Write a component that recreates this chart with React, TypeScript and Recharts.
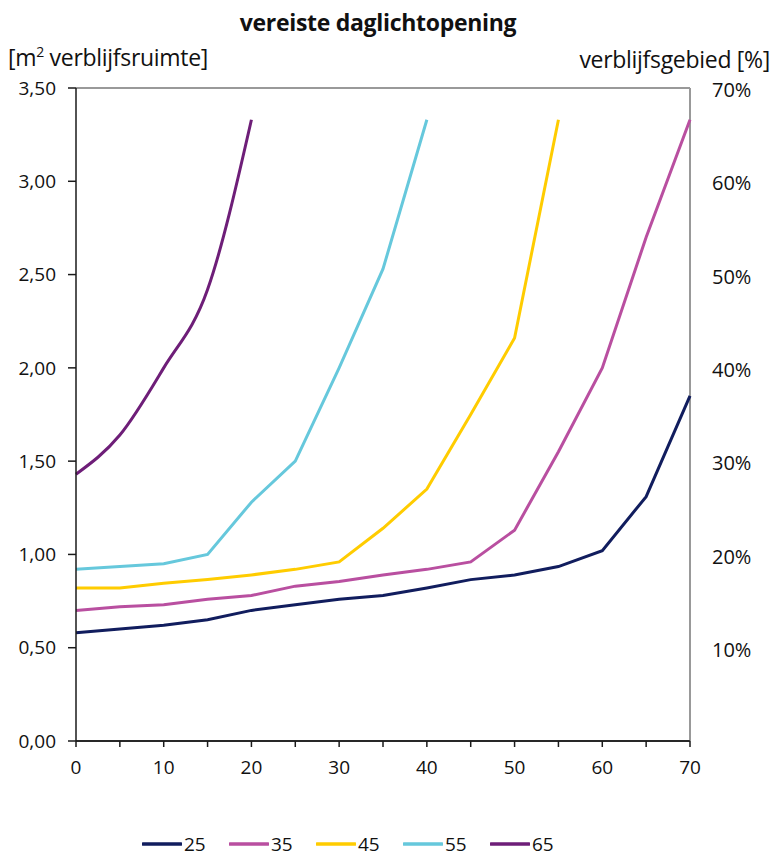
import React from 'react';
import { LineChart, Line, XAxis, YAxis, CartesianGrid, ReferenceLine, Legend } from 'recharts';

// verblijfsgebied [%] op de x-as, benodigde daglichtopening per m2 op de y-as
const xValues = [0, 5, 10, 15, 20, 25, 30, 35, 40, 45, 50, 55, 60, 65, 70];
const s25 = [0.58, 0.6, 0.62, 0.65, 0.7, 0.73, 0.76, 0.78, 0.82, 0.865, 0.89, 0.935, 1.02, 1.31, 1.85];
const s35 = [0.7, 0.72, 0.73, 0.76, 0.78, 0.83, 0.855, 0.89, 0.92, 0.96, 1.13, 1.55, 2.0, 2.7, 3.33];
const s45 = [0.82, 0.82, 0.845, 0.865, 0.89, 0.92, 0.96, 1.14, 1.35, 1.75, 2.16, 3.33];
const s55 = [0.92, 0.935, 0.95, 1.0, 1.28, 1.5, 2.0, 2.53, 3.33];
const s65 = [1.43, 1.64, 2.0, 2.42, 3.33];

const leftTicks = [0, 0.5, 1, 1.5, 2, 2.5, 3, 3.5];
const rightTicks = [10, 20, 30, 40, 50, 60, 70];

const series = [
  { key: 's25', name: '25', values: s25, color: '#111d5e', type: 'linear' },
  { key: 's35', name: '35', values: s35, color: '#b94fa0', type: 'linear' },
  { key: 's45', name: '45', values: s45, color: '#ffcc00', type: 'linear' },
  { key: 's55', name: '55', values: s55, color: '#66c8dc', type: 'linear' },
  { key: 's65', name: '65', values: s65, color: '#6e1e78', type: 'monotone' },
];

const data = xValues.map((x, i) => {
  const row: any = { x };
  series.forEach((s) => {
    if (i < s.values.length) row[s.key] = s.values[i];
  });
  return row;
});

const font = '"Open Sans", sans-serif';

function LegendContent() {
  return (
    <div style={{ display: 'flex', justifyContent: 'flex-start', paddingLeft: 126, fontFamily: font, fontSize: 19, color: '#111' }}>
      {series.map((s) => (
        <div key={s.key} style={{ display: 'flex', alignItems: 'center', width: 87 }}>
          <svg width={40} height={6}>
            <line x1={1} y1={3} x2={39} y2={3} stroke={s.color} strokeWidth={3.5} strokeLinecap="round" />
          </svg>
          <span style={{ marginLeft: 2 }}>{s.name}</span>
        </div>
      ))}
    </div>
  );
}

const headerText = { position: 'absolute' as const, fontFamily: font, fontSize: 23, lineHeight: '24px', color: '#111', letterSpacing: -0.3 };

export default function App() {
  return (
    <div style={{ position: 'absolute', left: 0, top: 0, width: 774, height: 857, background: '#fff' }}>
      <div style={{ ...headerText, left: 0, width: 756, top: 10, textAlign: 'center', fontWeight: 700 }}>
        vereiste daglichtopening
      </div>
      <div style={{ ...headerText, left: 8, top: 45 }}>
        [m<sup style={{ fontSize: 14, lineHeight: 0 }}>2</sup> verblijfsruimte]
      </div>
      <div style={{ ...headerText, right: 4, top: 47 }}>
        verblijfsgebied [%]
      </div>
      <LineChart width={774} height={857} data={data} margin={{ top: 88, right: 4, left: 16, bottom: 60 }}>
        <CartesianGrid vertical={false} stroke="#1a1a1a" strokeWidth={1.5} />
        <XAxis
          dataKey="x"
          type="number"
          domain={[0, 70]}
          ticks={xValues}
          tickFormatter={(v: number) => (v % 10 === 0 ? String(v) : '')}
          axisLine={{ stroke: '#1a1a1a', strokeWidth: 1.5 }}
          tickLine={{ stroke: '#1a1a1a', strokeWidth: 1.5 }}
          tickSize={6}
          tickMargin={14}
          height={30}
          tick={{ fill: '#111', fontSize: 19, fontFamily: font }}
        />
        <YAxis
          yAxisId="left"
          domain={[0, 3.5]}
          ticks={leftTicks}
          tickFormatter={(v: number) => v.toFixed(2).replace('.', ',')}
          axisLine={{ stroke: '#1a1a1a', strokeWidth: 1.5 }}
          tickLine={{ stroke: '#1a1a1a', strokeWidth: 1.5 }}
          tickSize={8}
          tickMargin={12}
          width={60}
          tick={{ fill: '#111', fontSize: 19, fontFamily: font }}
        />
        <YAxis
          yAxisId="right"
          orientation="right"
          type="number"
          domain={[0, 70]}
          allowDataOverflow
          ticks={rightTicks}
          tickFormatter={(v: number) => v + '%'}
          axisLine={false}
          tickLine={false}
          tickSize={2}
          tickMargin={20}
          width={80}
          tick={{ fill: '#111', fontSize: 20, fontFamily: font, textAnchor: 'start', dy: 2 }}
        />
        <ReferenceLine yAxisId="left" y={3.5} stroke="#999" strokeWidth={2} />
        <ReferenceLine yAxisId="left" x={70} stroke="#999" strokeWidth={2} />
        {series.map((s) => (
          <Line
            key={s.key}
            yAxisId="left"
            dataKey={s.key}
            name={s.name}
            type={s.type as any}
            stroke={s.color}
            strokeWidth={3}
            dot={false}
            activeDot={false}
            isAnimationActive={false}
          />
        ))}
        <Line yAxisId="right" dataKey="pct" stroke="none" dot={false} activeDot={false} legendType="none" isAnimationActive={false} />
        <Legend content={<LegendContent />} verticalAlign="bottom" wrapperStyle={{ bottom: 0 }} />
      </LineChart>
    </div>
  );
}
